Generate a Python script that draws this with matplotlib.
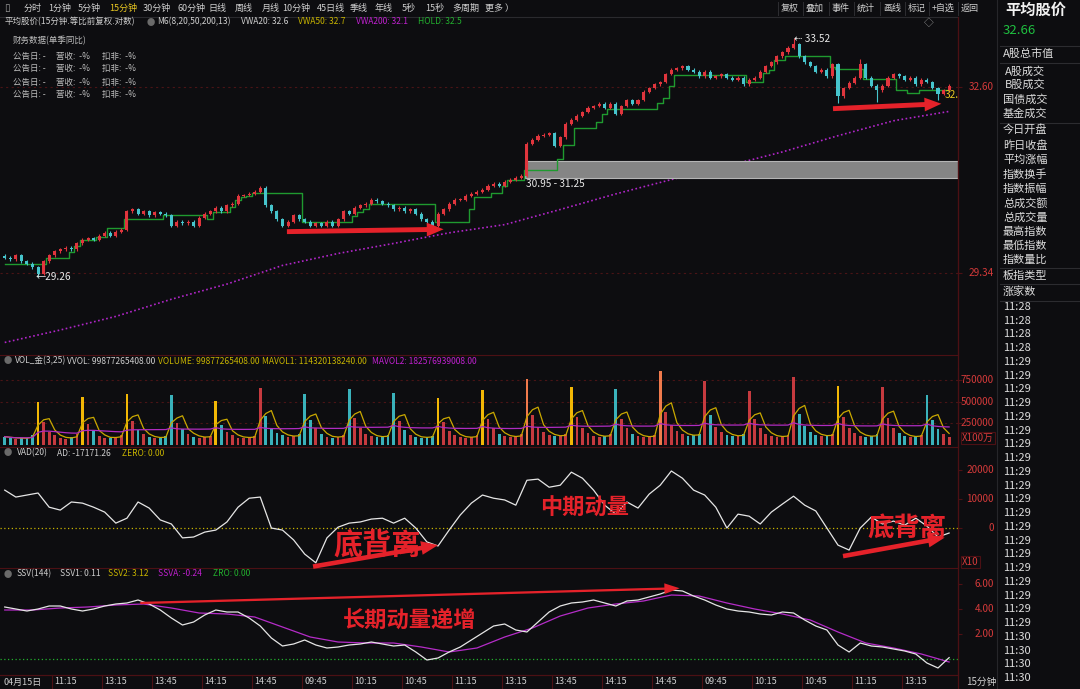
import numpy as np
import pandas as pd
import matplotlib
matplotlib.use('Agg')
import matplotlib.pyplot as plt
from matplotlib.patches import Rectangle
from matplotlib.lines import Line2D
from matplotlib.ticker import FixedLocator, NullLocator
from matplotlib.transforms import blended_transform_factory as btf

plt.rcParams['font.family'] = ['Noto Sans CJK SC', 'DejaVu Sans']

# ---------------- data ----------------
close = [29.59, 29.56, 29.63, 29.53, 29.49, 29.43, 29.32, 29.53, 29.63, 29.70,
         29.73, 29.76, 29.73, 29.83, 29.89, 29.92, 29.89, 29.96, 30.01, 29.96,
         30.03, 30.06, 30.38, 30.41, 30.34, 30.38, 30.31, 30.36, 30.34, 30.31,
         30.13, 30.20, 30.17, 30.20, 30.13, 30.27, 30.34, 30.38, 30.44, 30.38,
         30.48, 30.51, 30.65, 30.66, 30.68, 30.72, 30.79, 30.48, 30.38, 30.24,
         30.13, 30.20, 30.31, 30.24, 30.20, 30.13, 30.17, 30.13, 30.20, 30.13,
         30.24, 30.38, 30.34, 30.44, 30.48, 30.51, 30.58, 30.55, 30.51, 30.48,
         30.41, 30.44, 30.38, 30.41, 30.34, 30.24, 30.20, 30.13, 30.34, 30.41,
         30.51, 30.58, 30.58, 30.65, 30.68, 30.72, 30.75, 30.82, 30.86, 30.82,
         30.89, 30.93, 30.96, 31.00, 31.57, 31.64, 31.71, 31.73, 31.75, 31.53,
         31.68, 31.93, 32.00, 32.07, 32.14, 32.22, 32.25, 32.29, 32.22, 32.29,
         32.11, 32.25, 32.36, 32.29, 32.36, 32.51, 32.58, 32.65, 32.69, 32.84,
         32.92, 32.95, 32.99, 32.92, 32.88, 32.80, 32.88, 32.77, 32.80, 32.84,
         32.77, 32.73, 32.77, 32.65, 32.73, 32.77, 32.88, 32.99, 33.06, 33.17,
         33.25, 33.33, 33.40, 33.17, 33.06, 32.99, 32.88, 32.92, 32.80, 33.02,
         32.43, 32.58, 32.68, 32.77, 33.02, 32.77, 32.62, 32.54, 32.62, 32.77,
         32.84, 32.80, 32.73, 32.77, 32.65, 32.73, 32.69, 32.58, 32.47, 32.54, 32.62]
first_open = 29.62
wick_lo_idx = [6, 150, 157, 168]
wick_lo = [29.26, 32.30, 32.32, 32.36]
wick_hi_idx = [142, 154]
wick_hi = [33.52, 33.12]

hold = ([29.48] * 8 + [29.58] * 4 + [29.68, 29.78] + [29.89] * 3 + [29.94] * 2 +
        [30.10] * 3 + [30.24] * 7 + [30.31] * 8 + [30.24] + [30.36] * 3 +
        [30.46, 30.58, 30.62, 30.65] + [30.70] * 9 + [30.19] * 9 + [30.29, 30.36, 30.41] +
        [30.50] * 12 + [30.20] * 6 + [30.41] + [30.62] * 3 + [30.70] * 2 + [30.82] +
        [30.93] * 3 + [31.10] * 6 + [31.30] + [31.55] * 2 + [31.85] * 4 + [31.95, 32.10] +
        [32.20] * 9 + [32.30, 32.40, 32.62] + [32.82] * 13 + [32.69] * 3 + [32.85, 32.92] +
        [33.10] * 2 + [33.17] * 8 + [32.97] + [32.93] * 5 + [32.75] * 6 + [32.54] * 2 +
        [32.49] * 2 + [32.54] * 6)

vwa200 = [28.20, 28.40, 28.62, 28.90, 29.15, 29.46, 29.66, 29.83, 30.01,
          30.15, 30.41, 30.68, 30.93, 31.17, 31.42, 31.71, 31.98, 32.15]

vol_tail = [95000, 80000, 70000, 85000, 75000, 110000]
vol_days = [
    [500000, 260000, 150000, 110000, 80000, 70000, 90000, 120000],
    [555000, 240000, 160000, 100000, 85000, 75000, 95000, 110000],
    [590000, 280000, 170000, 120000, 90000, 80000, 85000, 100000],
    [580000, 250000, 180000, 130000, 95000, 85000, 90000, 105000],
    [510000, 230000, 150000, 110000, 85000, 80000, 90000, 100000],
    [660000, 330000, 200000, 140000, 110000, 95000, 100000, 120000],
    [590000, 290000, 190000, 120000, 90000, 85000, 95000, 110000],
    [650000, 310000, 200000, 130000, 100000, 90000, 95000, 115000],
    [600000, 280000, 170000, 110000, 90000, 80000, 90000, 105000],
    [540000, 260000, 160000, 115000, 90000, 80000, 95000, 110000],
    [640000, 300000, 190000, 130000, 100000, 90000, 100000, 120000],
    [760000, 340000, 210000, 150000, 110000, 100000, 105000, 125000],
    [670000, 320000, 200000, 140000, 105000, 95000, 100000, 120000],
    [650000, 300000, 190000, 130000, 100000, 90000, 95000, 115000],
    [850000, 380000, 230000, 160000, 120000, 105000, 110000, 130000],
    [740000, 340000, 210000, 150000, 110000, 100000, 105000, 125000],
    [620000, 300000, 190000, 130000, 100000, 90000, 100000, 115000],
    [790000, 360000, 220000, 150000, 115000, 100000, 105000, 125000],
    [680000, 320000, 200000, 140000, 105000, 95000, 100000, 120000],
    [670000, 310000, 190000, 135000, 100000, 90000, 100000, 115000],
    [580000, 290000, 180000, 120000, 95000],
]
gold_days = [0, 1, 2, 4, 9, 10, 12, 18]
orange_days = [11, 14]

vad = [13100, 10700, 11400, 12100, 7200, 6200, 9000, 8600, 7200, 5500,
       1700, 3400, 9000, 6900, 2800, 1400, -3400, -3100, -1400, -700,
       2100, 7200, 10300, 10700, 0, -700, -4100, -9000, -12000, -3400,
       300, 1700, 2100, 3100, 3400, 1700, 3400, 0, -4800, -6200,
       -700, 4500, 8600, 11400, 10300, 9700, 7900, 16500, 16900, 14100,
       14800, 19300, 17200, 13100, 7900, 4800, 9000, 6900, 11700, 14800,
       19700, 17200, 13100, 11400, 7200, 0, 4800, 4100, 1400, 5500,
       8300, 11000, 7900, 5900, 0, -5900, -7600, 0, 3800, 1400,
       2400, 1000, 3400, 700, -3100, -1717]

ssv1 = [4.16, 4.0, 3.84, 4.0, 4.24, 4.24, 4.0, 3.84, 4.0, 4.24,
        4.4, 4.48, 4.72, 4.4, 3.92, 3.28, 2.72, 2.96, 3.52, 3.92,
        3.76, 3.76, 3.28, 2.64, 1.68, 1.04, 1.2, 1.52, 1.12, 0.88,
        0.96, 1.12, 1.2, 1.36, 1.2, 1.04, 1.12, 0.56, -0.08, 0.08,
        0.56, 0.96, 1.52, 2.08, 2.64, 2.8, 2.32, 2.16, 2.96, 3.76,
        4.24, 4.48, 4.56, 4.72, 4.48, 4.24, 4.64, 4.72, 4.96, 5.2,
        5.52, 5.44, 5.04, 4.72, 4.32, 4.0, 3.84, 3.76, 3.6, 3.52,
        3.76, 3.68, 3.12, 2.64, 2.32, 1.12, 0.56, 1.28, 1.04, 0.96,
        0.8, 0.64, 0.4, -0.32, -0.72, 0.11]
ssva = [3.92, 3.92, 4.08, 4.16, 4.32, 4.4, 4.08, 3.68, 3.6, 3.36,
        2.56, 1.76, 1.36, 1.28, 1.28, 0.96, 0.56, 0.88, 1.76, 2.48,
        3.44, 4.08, 4.4, 4.64, 5.12, 5.04, 4.48, 4.0, 3.6, 3.12,
        2.16, 1.28, 0.88, 0.4, -0.24]

x_labels = ['11:15', '13:15', '13:45', '14:15', '14:45', '09:45', '10:15', '10:45', '11:15',
            '13:15', '13:45', '14:15', '14:45', '09:45', '10:15', '10:45', '11:15', '13:15']
price_ticks = [29.34, 32.60]
vol_ticks = [250000, 500000, 750000]
vad_ticks = [0, 10000, 20000]
ssv_ticks = [2.0, 4.0, 6.0]

toolbar = ['分时', '1分钟', '5分钟', '15分钟', '30分钟', '60分钟', '日线', '周线', '月线',
           '10分钟', '45日线', '季线', '年线', '5秒', '15秒', '多周期', '更多 ）']
toolbar_r = ['复权', '叠加', '事件', '统计', '画线', '标记', '+自选', '返回']
sidebar_items = ['A股总市值', 'A股成交', 'B股成交', '国债成交', '基金成交', '今日开盘', '昨日收盘',
                 '平均涨幅', '指数换手', '指数振幅', '总成交额', '总成交量', '最高指数', '最低指数',
                 '指数量比', '板指类型', '涨家数']
side_times = ['11:28'] * 4 + ['11:29'] * 20 + ['11:30'] * 4

# ---------------- styling ----------------
W, H = 1080, 689
BG = '#0d0d10'
UP, DN = '#e0353d', '#46c4cc'
VUP, VDN = '#c63a3f', '#3ab2bb'
GOLD, ORANGE = '#f2b705', '#f07a4c'
AXRED = '#d43a3a'
SEP = '#4c1014'
GRID = '#4a1416'
ARROW = '#e5222a'
TXT = '#cfcfcf'
HS = 6.1  # header font size

fig = plt.figure(figsize=(W / 100, H / 100), dpi=100, facecolor=BG)


def box(x0, y0, x1, y1):
    return [x0 / W, 1 - y1 / H, (x1 - x0) / W, (y1 - y0) / H]


def ftext(x, y, s, **kw):
    kw.setdefault('color', TXT)
    kw.setdefault('fontsize', HS)
    kw.setdefault('va', 'center')
    fig.text(x / W, 1 - y / H, s, **kw)


ax_k = fig.add_axes(box(0, 30, 958, 355))
ax_v = fig.add_axes(box(0, 368, 958, 447))
ax_a = fig.add_axes(box(0, 460, 958, 568))
ax_s = fig.add_axes(box(0, 580, 958, 675))
axes = [ax_k, ax_v, ax_a, ax_s]
for ax in axes:
    ax.set_facecolor(BG)
    ax.set_xlim(-0.85, 171.6)
    ax.set_xticks([])
    ax.spines['left'].set_visible(False)
    ax.spines['top'].set_visible(False)
    ax.spines['right'].set_color(SEP)
    ax.spines['bottom'].set_color(SEP)
    ax.yaxis.tick_right()
    ax.tick_params(axis='y', length=3, color=SEP, labelright=False)

n = len(close)
idx = np.arange(n)
c = np.array(close)
o = np.r_[first_open, c[:-1]]
hi = np.maximum(o, c) * 1.0008
lo = np.minimum(o, c) * 0.9992
hi[wick_hi_idx] = wick_hi
lo[wick_lo_idx] = wick_lo
up = c >= o
ccol = np.where(up, UP, DN)

# ---- main price panel (log) ----
ax_k.set_yscale('log')
ax_k.set_ylim(28.0, 33.67)
ax_k.yaxis.set_major_locator(FixedLocator(price_ticks))
ax_k.yaxis.set_minor_locator(NullLocator())
ax_k.grid(axis='y', color=GRID, ls=(0, (2, 3)), lw=0.8)
ax_k.add_patch(Rectangle((93.6, 30.95), 80, 0.30, fc='#858585', ec='#b5b5b5', lw=0.8, zorder=1.5))
ax_k.plot(np.arange(0, n, 10), vwa200, color='#b126c9', ls=(0, (1, 1.5)), lw=1.2, zorder=1.2)
ax_k.plot(idx, hold, color='#1f9a2f', lw=1.0, drawstyle='steps-mid', zorder=2)
ax_k.vlines(idx, lo, hi, colors=ccol, lw=0.8, zorder=3)
body = np.maximum(np.abs(c - o), 0.008)
ax_k.bar(idx, body, bottom=np.minimum(o, c), width=0.55, color=ccol, zorder=3)

ax_k.text(93.8, 30.86, '30.95 - 31.25', color='#e8e8e8', fontsize=7.3, va='center', ha='left')
ax_k.text(5.6, 29.26, '←29.26', color='#e8e8e8', fontsize=7.3, va='center', ha='left')
ax_k.text(142.1, 33.50, '⇠ 33.52', color='#e8e8e8', fontsize=7.3, va='center', ha='left')
ax_k.text(169.2, 32.46, '32.6', color='#e8c620', fontsize=7.3, va='center', ha='left', clip_on=True)

arrow_main = dict(arrowstyle='simple,head_length=1.1,head_width=0.9,tail_width=0.32',
                  fc=ARROW, ec=ARROW, lw=0, shrinkA=0, shrinkB=0, mutation_scale=11)
ax_k.annotate('', xy=(79.0, 30.07), xytext=(50.8, 30.03), arrowprops=arrow_main, zorder=5)
ax_k.annotate('', xy=(168.6, 32.29), xytext=(149.1, 32.20), arrowprops=arrow_main, zorder=5)

# ---- volume panel ----
vol = np.array(vol_tail + [v for d in vol_days for v in d], dtype=float)
vcol = np.where(up, VUP, VDN).astype(object)
for d in gold_days:
    vcol[len(vol_tail) + 8 * d] = GOLD
for d in orange_days:
    vcol[len(vol_tail) + 8 * d] = ORANGE
ax_v.set_ylim(-25000, 890000)
ax_v.yaxis.set_major_locator(FixedLocator(vol_ticks))
ax_v.grid(axis='y', color=GRID, ls=(0, (2, 3)), lw=0.8)
ax_v.bar(idx, vol, width=0.5, color=list(vcol), zorder=2)
s = pd.Series(vol)
ax_v.plot(idx, s.rolling(3, min_periods=1).mean(), color='#c9a800', lw=0.9, zorder=3)
ax_v.plot(idx, s.rolling(25, min_periods=1).mean(), color='#b02cc0', lw=0.9, zorder=3)

# ---- VAD panel ----
ax_a.set_ylim(-13800, 23500)
ax_a.yaxis.set_major_locator(FixedLocator(vad_ticks))
ax_a.axhline(0, color='#c8b400', ls=(0, (1, 2)), lw=0.9)
ax_a.plot(np.arange(0, n, 2), vad, color='#e6e6e6', lw=0.9)
arrow_sub = dict(arrowstyle='simple,head_length=1.1,head_width=0.9,tail_width=0.3',
                 fc=ARROW, ec=ARROW, lw=0, shrinkA=0, shrinkB=0, mutation_scale=11)
ax_a.annotate('', xy=(78.0, -5900), xytext=(55.5, -13300), arrowprops=arrow_sub)
ax_a.annotate('', xy=(169.2, -3300), xytext=(150.9, -9700), arrowprops=arrow_sub)
ax_a.text(67.0, -5600, '底背离', color=ARROW, fontsize=21, fontweight='bold', ha='center', va='center')
ax_a.text(104.4, 6900, '中期动量', color=ARROW, fontsize=16, fontweight='bold', ha='center', va='center')
ax_a.text(162.5, 0, '底背离', color=ARROW, fontsize=19, fontweight='bold', ha='center', va='center')

# ---- SSV panel ----
ax_s.set_ylim(-1.28, 6.32)
ax_s.yaxis.set_major_locator(FixedLocator(ssv_ticks))
ax_s.axhline(0, color='#22b02e', ls=(0, (1, 2)), lw=0.9)
ax_s.plot(np.arange(0, n, 5), ssva, color='#b52cc8', lw=0.9)
ax_s.plot(np.arange(0, n, 2), ssv1, color='#e6e6e6', lw=0.9)
ax_s.annotate('', xy=(121.5, 5.66), xytext=(24.4, 4.48),
              arrowprops=dict(arrowstyle='simple,head_length=1.0,head_width=0.7,tail_width=0.15',
                              fc=ARROW, ec=ARROW, lw=0, shrinkA=0, shrinkB=0, mutation_scale=11))
ax_s.text(72.9, 3.12, '长期动量递增', color=ARROW, fontsize=16, fontweight='bold', ha='center', va='center')


# ---- right axis labels ----
def right_labels(ax, vals, fmt):
    tr = btf(fig.transFigure, ax.transData)
    for v in vals:
        ax.text(994 / W, v, fmt.format(v), transform=tr, ha='right', va='center',
                color=AXRED, fontsize=7.2, clip_on=False)


right_labels(ax_k, price_ticks, '{:.2f}')
right_labels(ax_v, vol_ticks, '{:.0f}')
right_labels(ax_a, vad_ticks, '{:.0f}')
right_labels(ax_s, ssv_ticks, '{:.2f}')
for y, s_ in ((438, 'X100万'), (562, 'X10')):
    ftext(962, y, s_, color=AXRED, fontsize=7.0, ha='left',
          bbox=dict(boxstyle='square,pad=0.15', fc=BG, ec=SEP, lw=0.8))

# ---- x axis labels ----
tr = btf(ax_s.transData, fig.transFigure)
for k, lab in enumerate(x_labels):
    xb = 8.5 + 9 * k
    ax_s.add_line(Line2D([xb, xb], [0, 14 / H], transform=tr, color=SEP, lw=0.8, clip_on=False))
    ax_s.text(xb + 0.45, 7 / H, lab, transform=tr, color=TXT, fontsize=6.5, va='center', ha='left')
ftext(3, 682, '04月15日', fontsize=6.5, ha='left')
ftext(966, 682, '15分钟', fontsize=7.0, ha='left')

# ---- frame lines ----
fig.add_artist(Line2D([0, 958 / W], [1 - 17 / H] * 2, color='#2a2a2e', lw=0.8))
fig.add_artist(Line2D([958 / W] * 2, [0, 1 - 17 / H], color=SEP, lw=0.9))
fig.add_artist(Line2D([997 / W] * 2, [0, 1], color='#26262a', lw=0.8))
fig.add_artist(Line2D([0, 958 / W], [14 / H] * 2, color=SEP, lw=0.8))

# ---- toolbar ----
ftext(4, 8, '▯', color='#9a9a9a', fontsize=7.5, ha='left')
tb_x = [24, 48, 78, 109, 143, 177, 208, 235, 262, 282, 317, 350, 375, 402, 425, 452, 485]
for lab, x in zip(toolbar, tb_x):
    ftext(x, 8, lab, fontsize=6.5, ha='left', color='#e6c521' if lab == '15分钟' else TXT)
tbr_x = [781, 806, 832, 857, 883, 908, 932, 961]
for lab, x in zip(toolbar_r, tbr_x):
    ftext(x, 8, lab, fontsize=6.5, ha='left')
    fig.add_artist(Line2D([(x - 3) / W] * 2, [1 - 2 / H, 1 - 15 / H], color='#2e2e32', lw=0.7))
ftext(1005, 10, '平均股价', color='#f2f2f2', fontsize=11, fontweight='bold', ha='left')
ftext(1003, 31, '32.66', color='#1fc040', fontsize=9.5, ha='left')

# ---- header lines ----
ftext(5, 22, '平均股价(15分钟.等比前复权.对数)', ha='left')
ftext(147, 22, '●', color='#6a6a6a', fontsize=6.0, ha='left')
hdr = [(157, 'M6(8,20,50,200,13)', TXT), (241, 'VWA20: 32.6', TXT), (298, 'VWA50: 32.7', '#c8b400'),
       (356, 'VWA200: 32.1', '#c020d0'), (418, 'HOLD: 32.5', '#22b02e')]
for x, s_, col in hdr:
    ftext(x, 22, s_, color=col, ha='left')
ftext(924, 23, '◇', color='#9a9a9a', fontsize=7, ha='left')

for y, items in ((361, [(15, 'VOL_金(3,25)', TXT), (67, 'VVOL: 99877265408.00', TXT),
                        (158, 'VOLUME: 99877265408.00', '#c8b400'), (262, 'MAVOL1: 114320138240.00', '#c8b400'),
                        (372, 'MAVOL2: 182576939008.00', '#c020d0')]),
                 (453, [(17, 'VAD(20)', TXT), (57, 'AD: -17171.26', TXT), (122, 'ZERO: 0.00', '#c8b400')]),
                 (574, [(17, 'SSV(144)', TXT), (60, 'SSV1: 0.11', TXT), (108, 'SSV2: 3.12', '#c8b400'),
                        (158, 'SSVA: -0.24', '#c020d0'), (213, 'ZRO: 0.00', '#22b02e')])):
    ftext(4, y, '●', color='#6a6a6a', fontsize=6.0, ha='left')
    for x, s_, col in items:
        ftext(x, y, s_, color=col, ha='left')

# ---- financial box ----
ftext(13, 41, '财务数据(单季同比)', color='#bdbdbd', ha='left')
for y in (56, 69, 82, 94):
    ftext(13, y, '公告日: -', color='#bdbdbd', ha='left')
    ftext(56, y, '营收:  -%', color='#bdbdbd', ha='left')
    ftext(102, y, '扣非:  -%', color='#bdbdbd', ha='left')

# ---- sidebar ----
side_y = [54, 72, 85, 100, 114, 130, 146, 160, 175, 189, 203, 218, 232, 246, 260, 276, 292]
for lab, y in zip(sidebar_items, side_y):
    ftext(1005 if lab in ('A股成交', 'B股成交') else 1003, y, lab, fontsize=8, ha='left', color='#dcdcdc')
for y in (46, 63, 123, 268, 284, 301):
    fig.add_artist(Line2D([1000 / W, 1], [1 - y / H] * 2, color='#2c2c30', lw=0.8))
for k, t in enumerate(side_times):
    ftext(1003, 307 + 13.74 * k, t, fontsize=8, ha='left', color='#dcdcdc')

fig.savefig('out.png', dpi=100, facecolor=BG)
